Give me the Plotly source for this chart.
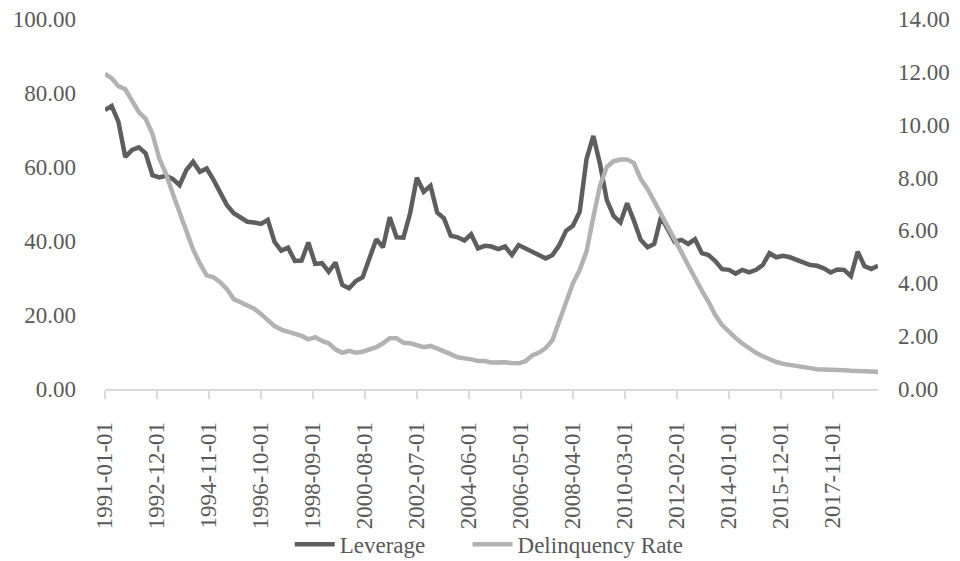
import pandas as pd
import plotly.graph_objects as go

dates = pd.date_range("1991-01-01", periods=115, freq="QS")

leverage = [
    75.4, 76.5, 72.2, 62.7, 64.6, 65.3, 63.7, 57.8, 57.2, 57.6,
    56.8, 55.1, 59.2, 61.4, 58.7, 59.6, 56.5, 53.3, 49.7, 47.5,
    46.3, 45.2, 45.0, 44.6, 45.7, 39.8, 37.4, 38.2, 34.6, 34.7,
    39.6, 33.8, 34.0, 31.7, 34.2, 28.1, 27.2, 29.2, 30.2, 35.1,
    40.5, 38.3, 46.4, 41.0, 40.9, 47.5, 57.1, 53.3, 54.9, 47.7,
    46.1, 41.4, 41.0, 40.1, 41.8, 38.0, 38.7, 38.5, 37.8, 38.5,
    36.2, 38.9, 38.0, 37.1, 36.5, 35.3, 36.2, 38.9, 42.8, 44.1,
    47.9, 62.1, 68.4, 60.8, 51.1, 46.8, 45.0, 50.2, 45.5, 40.3,
    38.3, 39.2, 46.5, 43.3, 39.8, 40.3, 39.2, 40.5, 36.7, 36.2,
    34.6, 32.4, 32.2, 31.2, 32.2, 31.5, 32.2, 33.5, 36.7, 35.6,
    36.0, 35.6, 34.9, 34.1, 33.5, 33.3, 32.6, 31.5, 32.3, 32.2,
    30.5, 37.1, 33.2, 32.4, 33.3,
]

delinquency = [
    11.92, 11.76, 11.46, 11.34, 10.90, 10.48, 10.22, 9.65, 8.72, 8.14,
    7.40, 6.65, 5.93, 5.28, 4.75, 4.30, 4.23, 4.04, 3.78, 3.40,
    3.28, 3.15, 3.04, 2.84, 2.60, 2.38, 2.25, 2.18, 2.08, 2.01,
    1.88, 1.96, 1.82, 1.73, 1.50, 1.37, 1.44, 1.37, 1.41, 1.48,
    1.58, 1.73, 1.92, 1.92, 1.75, 1.73, 1.64, 1.58, 1.63, 1.54,
    1.41, 1.32, 1.20, 1.18, 1.12, 1.06, 1.06, 1.00, 1.01, 1.01,
    0.98, 0.97, 1.05, 1.27, 1.38, 1.55, 1.85, 2.55, 3.37, 4.00,
    4.50, 5.20, 6.50, 7.70, 8.40, 8.62, 8.68, 8.68, 8.55, 7.95,
    7.57, 7.10, 6.68, 6.20, 5.70, 5.18, 4.68, 4.17, 3.72, 3.30,
    2.80, 2.42, 2.15, 1.93, 1.72, 1.52, 1.37, 1.24, 1.12, 1.02,
    0.95, 0.90, 0.85, 0.82, 0.79, 0.75, 0.75, 0.73, 0.72, 0.71,
    0.69, 0.67, 0.66, 0.65, 0.65,
]

tick_labels = [
    "1991-01-01", "1992-12-01", "1994-11-01", "1996-10-01", "1998-09-01",
    "2000-08-01", "2002-07-01", "2004-06-01", "2006-05-01", "2008-04-01",
    "2010-03-01", "2012-02-01", "2014-01-01", "2015-12-01", "2017-11-01",
]

FONT = "Liberation Serif, Times New Roman, serif"
TXT = "#595959"

fig = go.Figure()
fig.add_trace(go.Scatter(
    x=dates, y=leverage, name="Leverage", mode="lines",
    line=dict(color="#5e5e5e", width=4.5), yaxis="y", legend="legend",
))
fig.add_trace(go.Scatter(
    x=dates, y=delinquency, name="Delinquency Rate", mode="lines",
    line=dict(color="#b2b2b2", width=4.5), yaxis="y2", legend="legend2",
))

legend_common = dict(
    orientation="h", yanchor="middle", y=-0.42, xanchor="left",
    font=dict(family=FONT, size=23, color=TXT),
    bgcolor="rgba(0,0,0,0)", itemwidth=40,
)

fig.update_layout(
    width=960, height=561,
    margin=dict(l=105, r=82, t=19, b=172, autoexpand=False),
    paper_bgcolor="white", plot_bgcolor="white",
    font=dict(family=FONT, size=23, color=TXT),
    showlegend=True,
    legend=dict(x=0.239, **legend_common),
    legend2=dict(x=0.469, **legend_common),
    xaxis=dict(
        type="date", automargin=False,
        range=[dates[0], dates[-1]],
        tickvals=list(pd.to_datetime(tick_labels)),
        ticktext=tick_labels,
        tickangle=-90,
        ticks="outside", ticklen=8, tickcolor="#d9d9d9", tickwidth=1.5,
        showline=True, linecolor="#d9d9d9", linewidth=1.5,
        showgrid=False, zeroline=False,
        tickfont=dict(family=FONT, size=23, color=TXT),
        ticklabelstandoff=14,
    ),
    yaxis=dict(
        range=[0, 100], dtick=20, tickformat=".2f", automargin=False,
        showgrid=False, zeroline=False, showline=False,
        tickfont=dict(family=FONT, size=23, color=TXT),
        ticklabelstandoff=28,
    ),
    yaxis2=dict(
        range=[0, 14], dtick=2, tickformat=".2f", automargin=False,
        overlaying="y", side="right",
        showgrid=False, zeroline=False, showline=False,
        tickfont=dict(family=FONT, size=23, color=TXT),
        ticklabelstandoff=19,
    ),
)

fig.write_html(
    "out.html",
    config={"displayModeBar": False},
    post_script="document.body.style.margin='0';",
)
